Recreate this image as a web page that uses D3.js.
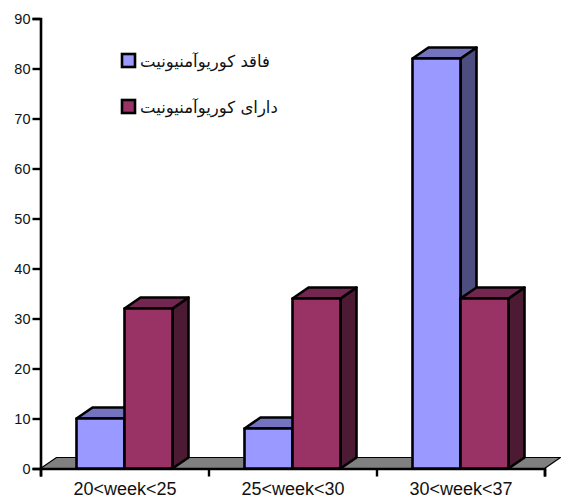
<!DOCTYPE html>
<html>
<head>
<meta charset="utf-8">
<script src="https://cdn.jsdelivr.net/npm/d3@7"></script>
<style>
html,body{margin:0;padding:0;background:#fff}
svg{display:block}
</style>
</head>
<body>
<svg id="chart" width="563" height="499"></svg>
<script>
const categories = ["20<week<25", "25<week<30", "30<week<37"];
const seriesNames = ["فاقد کوریوآمنیونیت", "دارای کوریوآمنیونیت"];
const withoutValues = [10, 8, 82];
const withValues = [32, 34, 34];
const yTicks = [0, 10, 20, 30, 40, 50, 60, 70, 80, 90];
const faceColors = ["#9999ff", "#993366"];
const topColors = ["#7373bf", "#732650"];
const sideColors = ["#4d4d80", "#4d1a33"];

const svg = d3.select("#chart");
const depthX = 16, depthY = -11;
const x = d3.scaleBand().domain(categories).range([40.5, 544.5]);
const inner = d3.scaleBand().domain([0, 1]).range([36, 132]);
const y = d3.scaleLinear().domain([0, 90]).range([468.5, 18.5]);
const stroke = {stroke: "#000", width: 2.6};

const poly = (pts, fill) => svg.append("polygon")
  .attr("points", pts.map(p => p.join(",")).join(" "))
  .attr("fill", fill)
  .attr("stroke", stroke.stroke)
  .attr("stroke-width", stroke.width)
  .attr("stroke-linejoin", "round");

// Grey floor of the 3D plot
poly([[40.5, y(0)], [40.5 + depthX, y(0) + depthY], [544.5 + depthX, y(0) + depthY], [544.5, y(0)]], "#808080")
  .attr("stroke-width", 1.2);

// Value axis
const yAxis = d3.axisLeft(y).tickValues(yTicks).tickSize(8).tickPadding(2);
const gy = svg.append("g").attr("transform", "translate(40.5,0)").call(yAxis);
gy.select(".domain").attr("stroke-width", 2.6);
gy.selectAll(".tick line").attr("stroke-width", 2.4);
gy.selectAll("text").attr("font-family", "'Liberation Sans', Arial, sans-serif").attr("font-size", 14.5).attr("fill", "#111");

// Category axis
const xAxis = d3.axisBottom(d3.scaleLinear().domain([0, 3]).range([40.5, 544.5])).ticks(3).tickSize(8).tickFormat("");
const gx = svg.append("g").attr("transform", `translate(0,${y(0)})`).call(xAxis);
gx.select(".domain").attr("stroke-width", 2.6);
gx.selectAll(".tick line").attr("stroke-width", 2.4);
svg.selectAll("text.cat").data(categories).join("text").attr("class", "cat")
  .attr("x", d => x(d) + x.bandwidth() / 2 + 0.5)
  .attr("y", 495)
  .attr("text-anchor", "middle")
  .attr("font-family", "'Liberation Sans', Arial, sans-serif")
  .attr("font-size", 18)
  .attr("fill", "#111")
  .text(d => d);

// 3D bars, drawn left to right so nearer faces overlap correctly
categories.forEach((c, i) => {
  [withoutValues[i], withValues[i]].forEach((v, s) => {
    const x0 = x(c) + inner(s), x1 = x0 + inner.bandwidth();
    const top = y(v), base = y(0);
    poly([[x1, top], [x1 + depthX, top + depthY], [x1 + depthX, base + depthY], [x1, base]], sideColors[s]);
    poly([[x0, top], [x0 + depthX, top + depthY], [x1 + depthX, top + depthY], [x1, top]], topColors[s]);
    poly([[x0, top], [x1, top], [x1, base], [x0, base]], faceColors[s]);
  });
});

// Legend
const legendY = [60.5, 106.5];
seriesNames.forEach((name, s) => {
  svg.append("rect")
    .attr("x", 122).attr("y", legendY[s] - 6.5)
    .attr("width", 13).attr("height", 13)
    .attr("fill", faceColors[s]).attr("stroke", "#000").attr("stroke-width", 2.6);
  svg.append("text")
    .attr("x", 140).attr("y", legendY[s] + 6)
    .attr("direction", "rtl").attr("text-anchor", "end")
    .attr("font-family", "'DejaVu Serif', 'DejaVu Sans', serif")
    .attr("font-size", 16.5).attr("fill", "#111")
    .text(name);
});
</script>
</body>
</html>
